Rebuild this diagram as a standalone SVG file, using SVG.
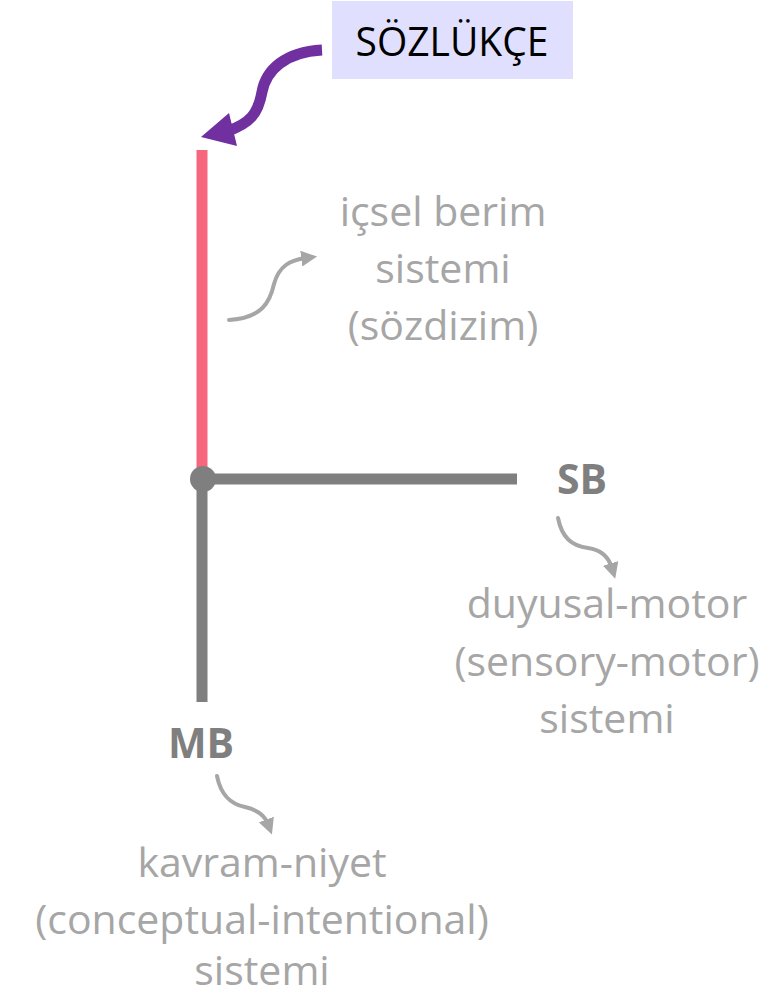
<svg xmlns="http://www.w3.org/2000/svg" width="774" height="999" viewBox="0 0 774 999">
<style>
.lbl{font-family:"Open Sans","Noto Sans",sans-serif;font-size:41px;fill:#a6a6a6;text-anchor:middle}
.bold{font-family:"Open Sans","Noto Sans",sans-serif;font-size:41px;font-weight:bold;fill:#7f7f7f;text-anchor:middle}
.thin{fill:none;stroke:#a6a6a6;stroke-width:4;stroke-linecap:round}
</style>
<defs>
<marker id="ga" viewBox="0 0 10 10" refX="3" refY="5" markerWidth="4" markerHeight="4" orient="auto" markerUnits="strokeWidth">
<path d="M0,0 L10,5 L0,10 Z" fill="#a6a6a6"/>
</marker>
</defs>
<rect width="774" height="999" fill="#ffffff"/>
<g id="connectors">
<line x1="202" y1="150" x2="202" y2="479" stroke="#f6677d" stroke-width="11"/>
<line x1="202" y1="479" x2="517" y2="479" stroke="#7f7f7f" stroke-width="11"/>
<line x1="202" y1="479" x2="202" y2="702" stroke="#7f7f7f" stroke-width="11"/>
<circle cx="203" cy="479" r="13" fill="#7f7f7f"/>
<path d="M322,50 C285,52 266,70 262,92 C258,114 250,123 228,131" fill="none" stroke="#7030a0" stroke-width="11"/>
<polygon points="201,137 229,113 237,146" fill="#7030a0"/>
<path class="thin" d="M229,320 C262,318 270,302 274,284 C279,266 290,260 306,258" marker-end="url(#ga)"/>
<path class="thin" d="M558,518 C562,538 572,546 588,548 C602,550 609,558 612,568" marker-end="url(#ga)"/>
<path class="thin" d="M217,776 C221,796 231,804 245,807 C258,810 265,816 268,824" marker-end="url(#ga)"/>
</g>
<g id="node-sozlukce">
<rect x="332" y="1" width="241" height="78" fill="#e0e0fe"/>
<text x="452" y="56" font-family="Open Sans, Noto Sans, sans-serif" font-size="41" fill="#000000" text-anchor="middle" textLength="193" lengthAdjust="spacingAndGlyphs">SÖZLÜKÇE</text>
</g>
<g id="node-icsel">
<text class="lbl" x="443" y="226">içsel berim</text>
<text class="lbl" x="443" y="283">sistemi</text>
<text class="lbl" x="443" y="340">(sözdizim)</text>
</g>
<g id="node-sb">
<text class="bold" x="582" y="494">SB</text>
</g>
<g id="node-sb-desc">
<text class="lbl" x="607" y="618">duyusal-motor</text>
<text class="lbl" x="607" y="676">(sensory-motor)</text>
<text class="lbl" x="607" y="733">sistemi</text>
</g>
<g id="node-mb">
<text class="bold" x="201" y="758">MB</text>
</g>
<g id="node-mb-desc">
<text class="lbl" x="262" y="877">kavram-niyet</text>
<text class="lbl" x="262" y="934">(conceptual-intentional)</text>
<text class="lbl" x="262" y="985">sistemi</text>
</g>
</svg>
